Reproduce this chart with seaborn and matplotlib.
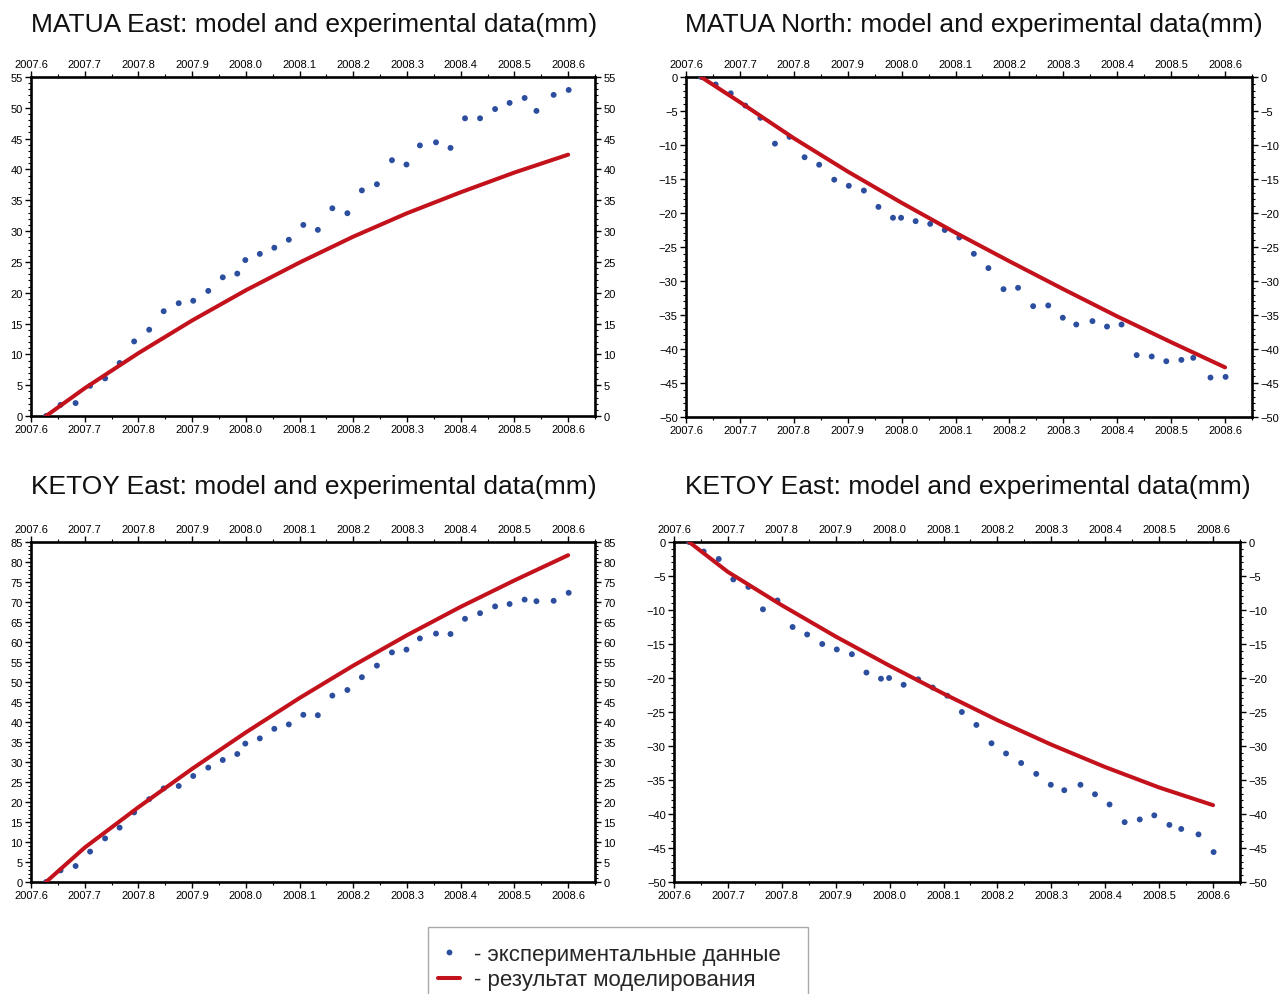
import matplotlib
matplotlib.use("Agg")
import matplotlib.pyplot as plt
from matplotlib.ticker import MultipleLocator, FormatStrFormatter
from matplotlib.lines import Line2D
from matplotlib.patches import Rectangle
import pandas as pd
import seaborn as sns

sns.set_theme(style="white")
plt.rcParams['font.family'] = ['Liberation Sans', 'DejaVu Sans']
plt.rcParams['axes.unicode_minus'] = True

# Observation epochs (decimal years), shared by all stations
epochs = [2007.628, 2007.655, 2007.683, 2007.710, 2007.738, 2007.765, 2007.792,
          2007.820, 2007.847, 2007.875, 2007.902, 2007.930, 2007.957, 2007.984,
          2007.999, 2008.026, 2008.053, 2008.080, 2008.107, 2008.134, 2008.161,
          2008.189, 2008.216, 2008.244, 2008.272, 2008.299, 2008.324, 2008.354,
          2008.381, 2008.408, 2008.436, 2008.464, 2008.491, 2008.519, 2008.541,
          2008.573, 2008.601]

# Measured displacements, mm
matua_east = [0, 1.8, 2.1, 4.9, 6.1, 8.6, 12.1, 14.0, 17.0, 18.3, 18.7, 20.3, 22.5,
              23.1, 25.3, 26.3, 27.3, 28.6, 31.0, 30.2, 33.7, 32.9, 36.6, 37.6, 41.5,
              40.8, 43.9, 44.4, 43.5, 48.3, 48.3, 49.8, 50.8, 51.6, 49.5, 52.1, 52.9]
matua_north = [0, -1.1, -2.4, -4.2, -6.0, -9.8, -8.8, -11.8, -12.9, -15.1, -16.0,
               -16.7, -19.1, -20.7, -20.7, -21.2, -21.6, -22.5, -23.6, -26.0, -28.1,
               -31.2, -31.0, -33.7, -33.6, -35.4, -36.4, -35.9, -36.7, -36.4, -40.9,
               -41.1, -41.8, -41.6, -41.3, -44.2, -44.1]
ketoy_east = [0, 2.9, 4.0, 7.6, 10.9, 13.6, 17.4, 20.7, 23.4, 24.0, 26.5, 28.6, 30.5,
              32.0, 34.6, 35.9, 38.3, 39.4, 41.8, 41.7, 46.6, 48.0, 51.2, 54.1, 57.4,
              58.1, 60.9, 62.1, 62.0, 65.8, 67.2, 68.9, 69.5, 70.6, 70.2, 70.3, 72.3]
ketoy_second = [0, -1.4, -2.5, -5.5, -6.6, -9.9, -8.6, -12.5, -13.6, -15.0, -15.8,
                -16.5, -19.2, -20.1, -20.0, -21.0, -20.2, -21.4, -22.6, -25.0, -26.9,
                -29.6, -31.1, -32.5, -34.1, -35.7, -36.5, -35.7, -37.1, -38.6, -41.2,
                -40.8, -40.2, -41.6, -42.2, -43.0, -45.6]

# Modelled displacements, mm
model_epochs = [2007.628, 2007.7, 2007.8, 2007.9, 2008.0, 2008.1, 2008.2, 2008.3,
                2008.4, 2008.5, 2008.6]
model_matua_east = [0, 4.5, 10.2, 15.5, 20.4, 24.9, 29.1, 32.9, 36.3, 39.5, 42.4]
model_matua_north = [0, -3.7, -9.0, -13.9, -18.5, -22.9, -27.1, -31.2, -35.2, -39.0, -42.7]
model_ketoy_east = [0, 8.6, 18.7, 28.3, 37.4, 46.0, 54.1, 61.7, 68.8, 75.4, 81.7]
model_ketoy_second = [0, -4.4, -9.3, -13.9, -18.2, -22.3, -26.2, -29.8, -33.1, -36.1, -38.7]

titles = ["MATUA East: model and experimental data(mm)",
          "MATUA North: model and experimental data(mm)",
          "KETOY East: model and experimental data(mm)",
          "KETOY East: model and experimental data(mm)"]
legend_labels = ["- экспериментальные данные", "- результат моделирования"]

BLUE = "#2C4E9E"
RED = "#C3121C"

W, H = 1280, 995
fig = plt.figure(figsize=(W / 100, H / 100), dpi=100)


def box(l, t, r, b):
    return [l / W, 1 - b / H, (r - l) / W, (b - t) / H]


panels = [
    (matua_east, model_matua_east, (0, 55), box(31, 78, 595, 417), (314, 25)),
    (matua_north, model_matua_north, (-50, 0), box(686, 78, 1252, 418), (974, 25)),
    (ketoy_east, model_ketoy_east, (0, 85), box(31, 543, 595, 883), (314, 487)),
    (ketoy_second, model_ketoy_second, (-50, 0), box(674, 543, 1240, 883), (968, 487)),
]

for (obs, mod, ylim, rect, tpos), title in zip(panels, titles):
    ax = fig.add_axes(rect)
    obs_df = pd.DataFrame({"epoch": epochs, "mm": obs})
    mod_df = pd.DataFrame({"epoch": model_epochs, "mm": mod})
    sns.scatterplot(data=obs_df, x="epoch", y="mm", ax=ax, color=BLUE, s=18,
                    edgecolor="none", linewidth=0, zorder=3)
    sns.lineplot(data=mod_df, x="epoch", y="mm", ax=ax, color=RED, linewidth=2.9,
                 zorder=4)
    ax.set_xlim(2007.6, 2008.65)
    ax.set_ylim(*ylim)
    ax.set_xlabel("")
    ax.set_ylabel("")
    ax.xaxis.set_major_locator(MultipleLocator(0.1))
    ax.xaxis.set_minor_locator(MultipleLocator(0.05))
    ax.xaxis.set_major_formatter(FormatStrFormatter("%.1f"))
    ax.yaxis.set_major_locator(MultipleLocator(5))
    ax.yaxis.set_minor_locator(MultipleLocator(1))
    ax.tick_params(which="both", direction="out", top=True, right=True,
                   bottom=True, left=True, labeltop=True, labelright=True,
                   colors="black", labelsize=8, pad=2)
    ax.tick_params(which="major", length=4, width=1)
    ax.tick_params(which="minor", length=2, width=0.8)
    for sp in ax.spines.values():
        sp.set_visible(True)
        sp.set_color("black")
        sp.set_linewidth(1.9)
    fig.text(tpos[0] / W, 1 - tpos[1] / H, title, ha="center", va="center",
             fontsize=19, color="#111111")

# Legend box (runs off the lower edge of the figure)
fig.patches.append(Rectangle((428 / W, 1 - 1002 / H), (808 - 428) / W, (1002 - 928) / H,
                             transform=fig.transFigure, facecolor="white",
                             edgecolor="#AAAAAA", linewidth=1.0, zorder=1))

handles = [
    Line2D([], [], marker="o", linestyle="none", color=BLUE, markersize=4.2,
           markeredgewidth=0),
    Line2D([], [], color=RED, linewidth=2.9),
]
leg = fig.legend(handles, legend_labels, loc="upper left",
                 bbox_to_anchor=(428 / W, 1 - 935 / H), borderaxespad=0,
                 fontsize=16, frameon=False, handlelength=1.0,
                 handletextpad=0.6, labelspacing=0.2, borderpad=0.45)
leg.set_zorder(2)

fig.savefig("out.png", dpi=100, facecolor="white")
